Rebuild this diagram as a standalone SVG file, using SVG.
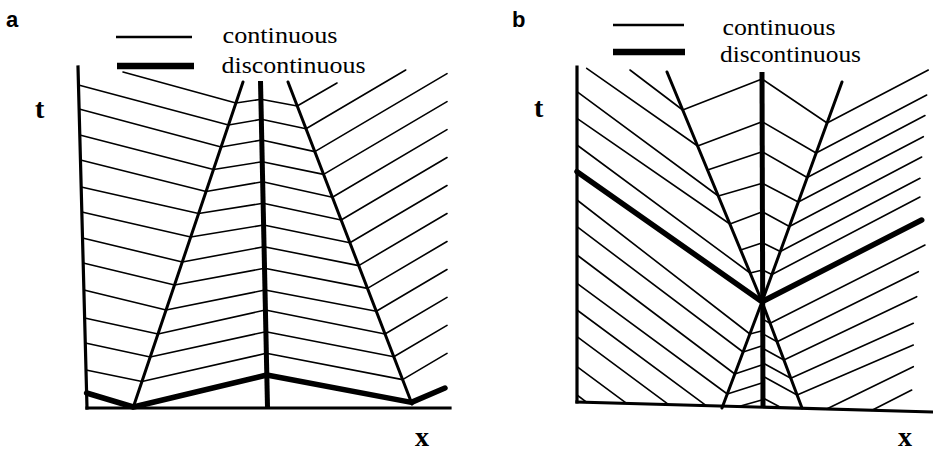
<svg xmlns="http://www.w3.org/2000/svg" width="933" height="451" viewBox="0 0 933 451">
<style>
  .thin { fill: none; stroke: #000; stroke-width: 1.6; stroke-linejoin: round; stroke-linecap: round; }
  .char { fill: none; stroke: #000; stroke-width: 3; stroke-linejoin: round; stroke-linecap: round; }
  .axis { fill: none; stroke: #000; stroke-width: 3.2; stroke-linecap: square; }
  .thick { fill: none; stroke: #000; stroke-width: 5.5; stroke-linejoin: round; stroke-linecap: round; }
  .center { fill: none; stroke: #000; stroke-width: 5; stroke-linecap: butt; }
  .panel { font-family: "Liberation Sans", Arial, sans-serif; font-weight: bold; font-size: 22px; fill: #000; }
  .leg { font-family: "Liberation Serif", "Times New Roman", serif; font-size: 24px; fill: #000; }
  .axlab { font-family: "Liberation Serif", "Times New Roman", serif; font-weight: bold; font-size: 28px; fill: #000; }
</style>
<rect width="933" height="451" fill="#fff"/>

<g id="panel-a">
  <text class="panel" x="6" y="27">a</text>
  <g id="legend-a">
    <line class="thin" x1="116" y1="37" x2="192" y2="37" style="stroke-width:2.6;stroke-linecap:butt"/>
    <line class="thick" x1="117" y1="66" x2="194" y2="66" style="stroke-width:6.5;stroke-linecap:butt"/>
    <text class="leg" x="222.5" y="43" textLength="115" lengthAdjust="spacingAndGlyphs">continuous</text>
    <text class="leg" x="221.5" y="73" textLength="144" lengthAdjust="spacingAndGlyphs">discontinuous</text>
  </g>
  <text class="axlab" x="35" y="118">t</text>
  <text class="axlab" x="415" y="446">x</text>
  <g id="axes-a">
    <line class="axis" x1="78" y1="67" x2="87" y2="408"/>
    <line class="axis" x1="87" y1="408" x2="450" y2="408"/>
  </g>
  <g id="characteristics-a">
    <polyline class="thin" points="123,72 235.9,103 260.9,99.3 297.2,106 337,83"/>
    <polyline class="thin" points="78.5,85 228.5,125 261.3,119.3 306,128.8 405.7,70"/>
    <polyline class="thin" points="79.1,109 221.1,147 261.7,140 314.8,151.6 447,73.6"/>
    <polyline class="thin" points="79.8,135 213.5,169.5 262.2,161.7 323.6,174.4 447,101.6"/>
    <polyline class="thin" points="80.5,160 206.1,191.5 262.6,181.7 332.4,197.2 447,129.6"/>
    <polyline class="thin" points="81.2,187 198.6,213.5 263.1,203.3 341.1,220 447,157.5"/>
    <polyline class="thin" points="81.8,212 190.7,237 263.6,225 349.9,242.8 447,185.5"/>
    <polyline class="thin" points="82.5,238 182.3,262 264,246.7 358.7,265.6 447,213.5"/>
    <polyline class="thin" points="83.2,263 174.5,285 264.5,268.3 367.5,288.4 447,241.5"/>
    <polyline class="thin" points="83.9,290 166.1,310 265,290 376.3,311.2 447,269.5"/>
    <polyline class="thin" points="84.6,318 158,334 265.4,310 385,334 447,297.4"/>
    <polyline class="thin" points="85.3,343 150.2,357 265.9,331.7 393.8,356.8 447,325.4"/>
    <polyline class="thin" points="86,370 142,381.5 266.3,353.3 402.6,379.6 447,353.4"/>
  </g>
  <g id="fronts-a">
    <line class="char" x1="243" y1="82" x2="133" y2="408"/>
    <line class="char" x1="288" y1="82" x2="412" y2="404"/>
    <line class="center" x1="260.5" y1="81" x2="267.5" y2="407"/>
    <polyline class="thick" points="86.6,393 133.3,407 266.8,375 411.4,402.4 445,388"/>
  </g>
</g>

<g id="panel-b">
  <text class="panel" x="512" y="27">b</text>
  <g id="legend-b">
    <line class="thin" x1="613" y1="25" x2="684" y2="25" style="stroke-width:2.6;stroke-linecap:butt"/>
    <line class="thick" x1="613" y1="52" x2="685" y2="52" style="stroke-width:6.5;stroke-linecap:butt"/>
    <text class="leg" x="722.5" y="35" textLength="113" lengthAdjust="spacingAndGlyphs">continuous</text>
    <text class="leg" x="720" y="62" textLength="141" lengthAdjust="spacingAndGlyphs">discontinuous</text>
  </g>
  <text class="axlab" x="534" y="117">t</text>
  <text class="axlab" x="898" y="446">x</text>
  <g id="axes-b">
    <line class="axis" x1="577" y1="67" x2="577" y2="402"/>
    <line class="axis" x1="577" y1="402" x2="933" y2="412"/>
  </g>
  <g id="characteristics-b">
    <polyline class="thin" points="630,70 682.7,110 762,79 827.1,123 928.3,70"/>
    <polyline class="thin" points="586.7,68.3 697.6,146 762.1,121.7 816.1,153 926.7,95"/>
    <polyline class="thin" points="707.5,170 762.2,151.7 807.2,177.5 925,115.5"/>
    <polyline class="thin" points="577,91.7 718.3,196 762.3,183.3 798.3,202 923.3,136.7"/>
    <polyline class="thin" points="577,118.3 729.9,224 762.4,211.7 789.4,226.5 921.7,157"/>
    <polyline class="thin" points="740.6,250 762.5,242.7 780.3,251.5 920,178.3"/>
    <polyline class="thin" points="577,145 750.1,273 762.6,270 771.9,274.5 920,197"/>
    <polyline class="thin" points="577,200 749.9,334 761.5,331"/>
    <polyline class="thin" points="577,226.7 743.1,352 761.6,346"/>
    <polyline class="thin" points="577,255 734.8,374 761.7,365"/>
    <polyline class="thin" points="577,283.3 727.3,394 761.8,383"/>
    <polyline class="thin" points="577,310 706.2,405.6"/>
    <polyline class="thin" points="577,336.7 668.7,404.6"/>
    <polyline class="thin" points="577,366.7 626.6,403.4"/>
    <polyline class="thin" points="577,395 586.8,402.3"/>
    <polyline class="thin" points="737,407 761.8,400"/>
    <polyline class="thin" points="763,319.4 770.1,323.3 925,245"/>
    <polyline class="thin" points="763,333.9 777.1,341.7 918.3,271.7"/>
    <polyline class="thin" points="763,348.5 783.9,360 916.7,296.7"/>
    <polyline class="thin" points="763,363 790.8,378.3 913.3,323.3"/>
    <polyline class="thin" points="763,376.3 797.1,395 913.3,345"/>
    <polyline class="thin" points="763,398 780,407"/>
    <polyline class="thin" points="826.7,409 913.3,366.7"/>
    <polyline class="thin" points="872,410.3 911.7,390"/>
  </g>
  <g id="fronts-b">
    <polyline class="char" points="667,72 762,301.7 802,408"/>
    <polyline class="char" points="842,82 762,301.7 722,408"/>
    <line class="center" x1="762" y1="72" x2="763" y2="408"/>
    <polyline class="thick" points="577,171.7 762,301.7 921.7,220"/>
  </g>
</g>
</svg>
